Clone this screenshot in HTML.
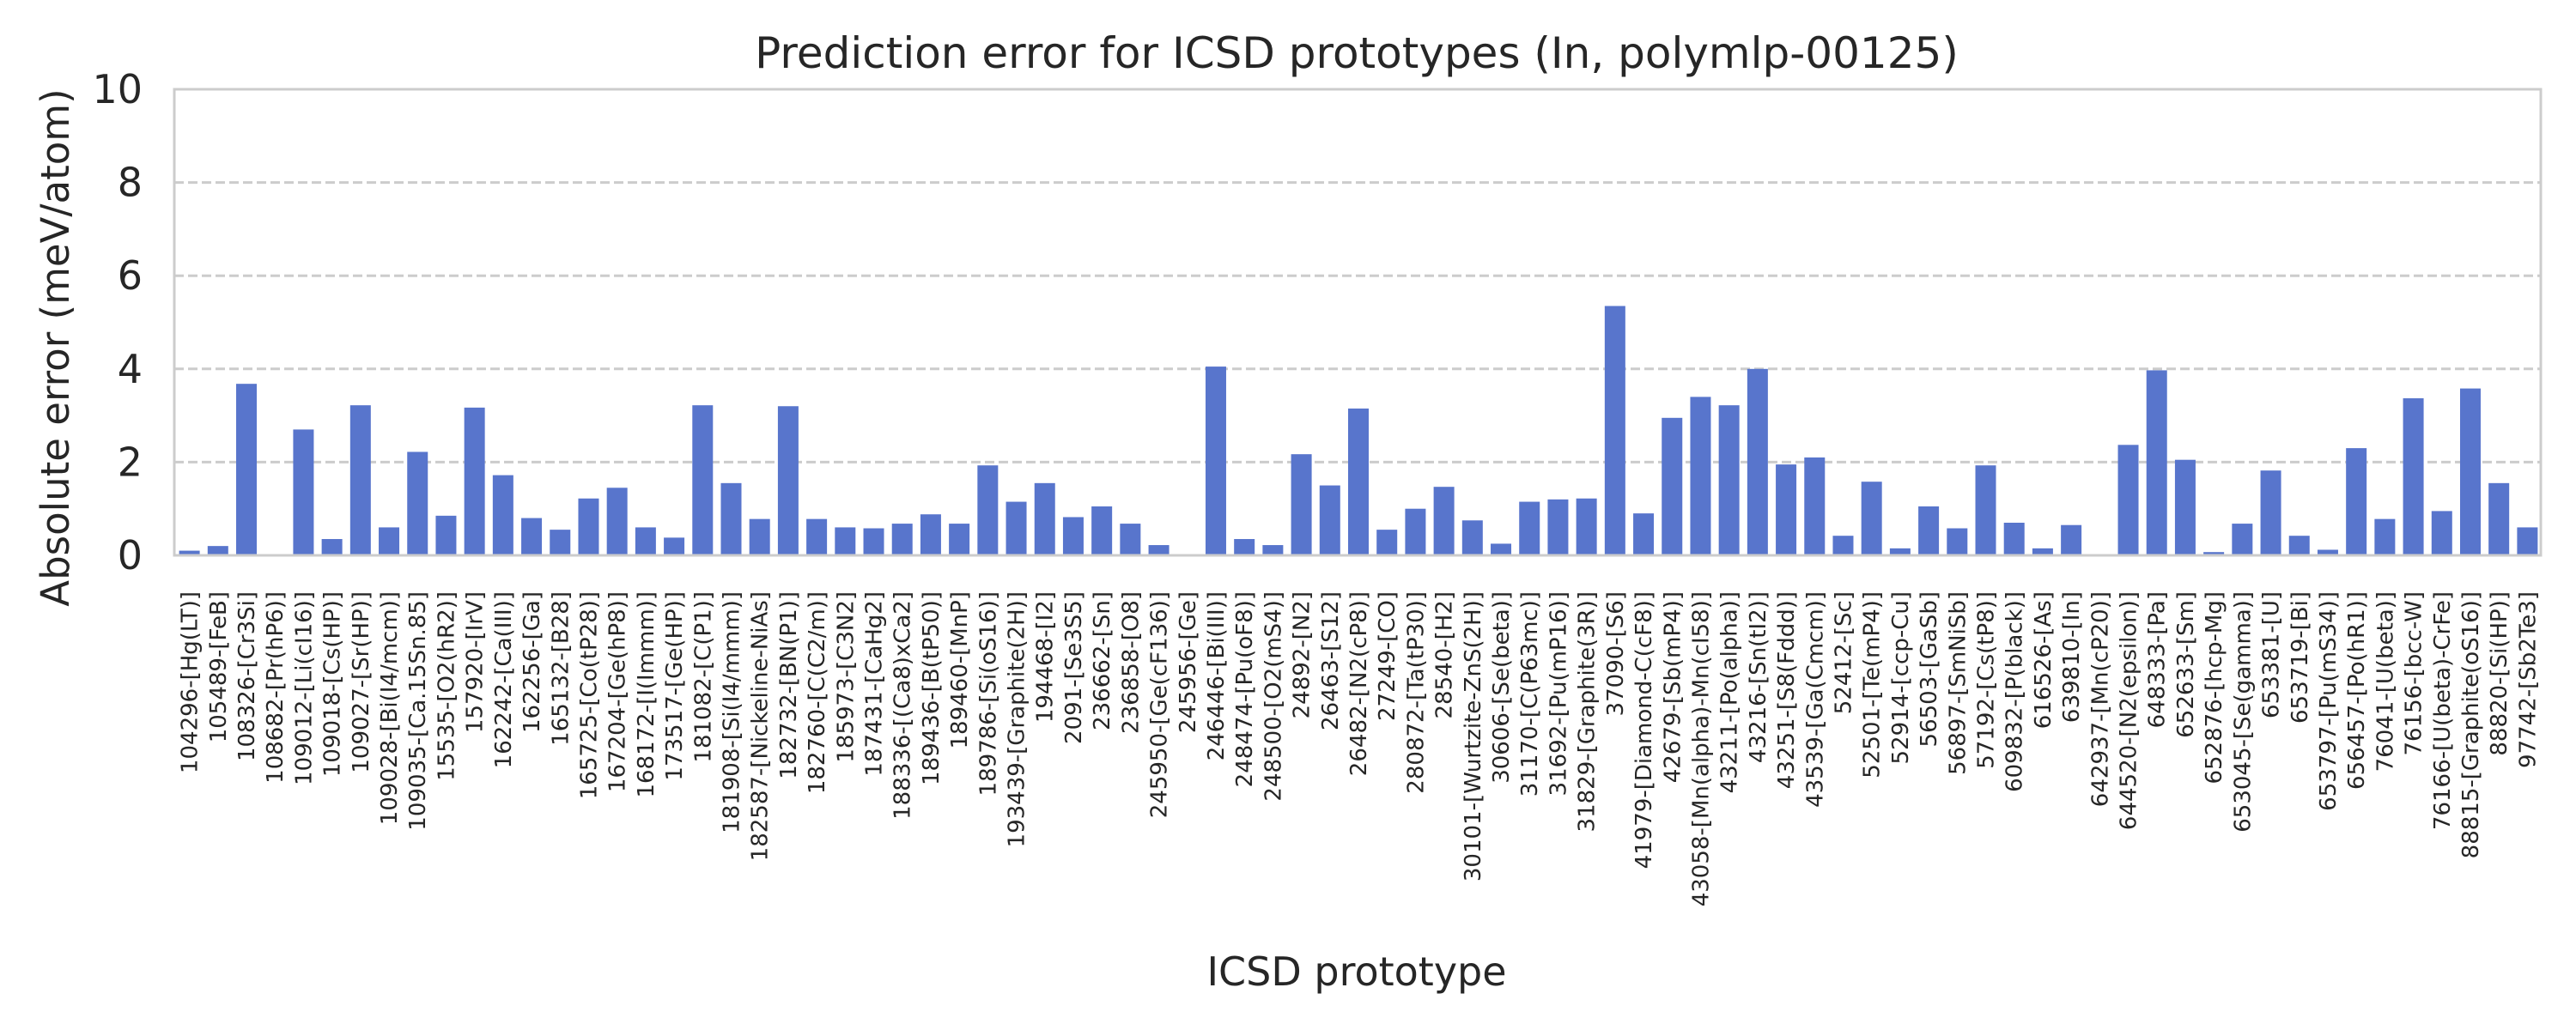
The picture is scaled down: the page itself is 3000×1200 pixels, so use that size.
<!DOCTYPE html>
<html><head><meta charset="utf-8"><style>
html,body{margin:0;padding:0;background:#fff;}
svg{display:block;font-family:"DejaVu Sans","Liberation Sans",sans-serif;}
</style></head><body>
<svg id="chart" width="3000" height="1200" viewBox="0 0 3000 1200" xmlns="http://www.w3.org/2000/svg">
<rect width="3000" height="1200" fill="#fff"/>
<text x="1580" y="79" font-size="50" text-anchor="middle" fill="#262626">Prediction error for ICSD prototypes (In, polymlp-00125)</text>
<g id="grid"></g>
<g id="bars"></g>
<g id="xlabels"></g>
<g id="ylabels"></g>
<rect x="203" y="104" width="2756" height="543" fill="none" stroke="#cccccc" stroke-width="3"/>
<text transform="translate(80,405) rotate(-90)" font-size="45" text-anchor="middle" fill="#262626">Absolute error (meV/atom)</text>
<text x="1580" y="1148" font-size="46" text-anchor="middle" fill="#262626">ICSD prototype</text>
</svg>
<script>
const categories = ["104296-[Hg(LT)]","105489-[FeB]","108326-[Cr3Si]","108682-[Pr(hP6)]","109012-[Li(cI16)]","109018-[Cs(HP)]","109027-[Sr(HP)]","109028-[Bi(I4/mcm)]","109035-[Ca.15Sn.85]","15535-[O2(hR2)]","157920-[IrV]","162242-[Ca(III)]","162256-[Ga]","165132-[B28]","165725-[Co(tP28)]","167204-[Ge(hP8)]","168172-[I(Immm)]","173517-[Ge(HP)]","181082-[C(P1)]","181908-[Si(I4/mmm)]","182587-[Nickeline-NiAs]","182732-[BN(P1)]","182760-[C(C2/m)]","185973-[C3N2]","187431-[CaHg2]","188336-[(Ca8)xCa2]","189436-[B(tP50)]","189460-[MnP]","189786-[Si(oS16)]","193439-[Graphite(2H)]","194468-[I2]","2091-[Se3S5]","236662-[Sn]","236858-[O8]","245950-[Ge(cF136)]","245956-[Ge]","246446-[Bi(III)]","248474-[Pu(oF8)]","248500-[O2(mS4)]","24892-[N2]","26463-[S12]","26482-[N2(cP8)]","27249-[CO]","280872-[Ta(tP30)]","28540-[H2]","30101-[Wurtzite-ZnS(2H)]","30606-[Se(beta)]","31170-[C(P63mc)]","31692-[Pu(mP16)]","31829-[Graphite(3R)]","37090-[S6]","41979-[Diamond-C(cF8)]","42679-[Sb(mP4)]","43058-[Mn(alpha)-Mn(cI58)]","43211-[Po(alpha)]","43216-[Sn(tI2)]","43251-[S8(Fddd)]","43539-[Ga(Cmcm)]","52412-[Sc]","52501-[Te(mP4)]","52914-[ccp-Cu]","56503-[GaSb]","56897-[SmNiSb]","57192-[Cs(tP8)]","609832-[P(black)]","616526-[As]","639810-[In]","642937-[Mn(cP20)]","644520-[N2(epsilon)]","648333-[Pa]","652633-[Sm]","652876-[hcp-Mg]","653045-[Se(gamma)]","653381-[U]","653719-[Bi]","653797-[Pu(mS34)]","656457-[Po(hR1)]","76041-[U(beta)]","76156-[bcc-W]","76166-[U(beta)-CrFe]","88815-[Graphite(oS16)]","88820-[Si(HP)]","97742-[Sb2Te3]"];
const errors = [0.1,0.2,3.68,0.01,2.7,0.35,3.22,0.6,2.22,0.85,3.17,1.72,0.8,0.55,1.22,1.45,0.6,0.38,3.22,1.55,0.78,3.2,0.78,0.6,0.58,0.68,0.88,0.68,1.93,1.15,1.55,0.82,1.05,0.68,0.22,0.01,4.05,0.35,0.22,2.17,1.5,3.15,0.55,1.0,1.47,0.75,0.25,1.15,1.2,1.22,5.35,0.9,2.95,3.4,3.22,4.0,1.95,2.1,0.42,1.58,0.15,1.05,0.58,1.93,0.7,0.15,0.65,0.01,2.37,3.97,2.05,0.07,0.68,1.82,0.42,0.12,2.3,0.78,3.37,0.95,3.58,1.55,0.6];
const yTicks = [0,2,4,6,8,10];
const gridTicks = [2,4,6,8];

const NS="http://www.w3.org/2000/svg";
const plotLeft=203,plotRight=2959,plotTop=104,plotBottom=647,yMax=10;
const step=(plotRight-plotLeft)/categories.length;
function xPos(i){return plotLeft+step*(i+0.5)+1;}
function yPos(v){return plotBottom-(v/yMax)*(plotBottom-plotTop);}
function mk(t,a){const e=document.createElementNS(NS,t);for(const k in a)e.setAttribute(k,a[k]);return e;}

const gridG=document.getElementById('grid');
gridTicks.forEach(v=>{
  const l=mk('line',{x1:plotLeft,x2:plotRight,y1:yPos(v),y2:yPos(v),stroke:'#cccccc','stroke-width':3,'stroke-dasharray':'11 5'});
  
  
  gridG.appendChild(l);
});
const ylG=document.getElementById('ylabels');
yTicks.forEach(v=>{
  const t=mk('text',{x:166,y:yPos(v)+16,'font-size':46,'text-anchor':'end',fill:'#262626'});
  t.textContent=String(v);
  
  
  ylG.appendChild(t);
});
const barsG=document.getElementById('bars');
const xlG=document.getElementById('xlabels');
const bw=24;
categories.forEach((c,i)=>{
  const v=errors[i];
  const r=mk('rect',{x:xPos(i)-bw/2,y:yPos(v),width:bw,height:plotBottom-yPos(v),fill:'#5875cc'});
  
  
  barsG.appendChild(r);
  const t=mk('text',{transform:'translate('+(xPos(i)+9)+',689) rotate(-90)','font-size':26,'text-anchor':'end',fill:'#262626'});
  t.textContent=c;
  
  
  xlG.appendChild(t);
});
</script>
</body></html>
